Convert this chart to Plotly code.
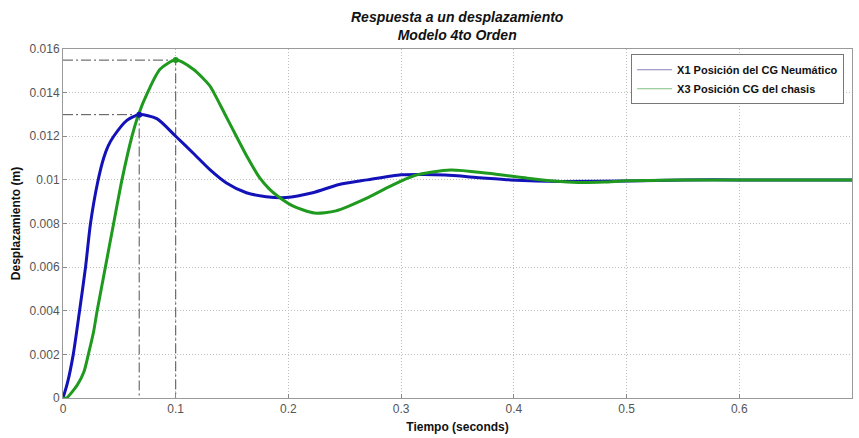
import plotly.graph_objects as go

# Data
t_x1 = [0, 0.004, 0.0091, 0.0147, 0.020, 0.0244, 0.0308, 0.0361, 0.040, 0.045,
        0.0567, 0.0676, 0.0832, 0.1, 0.1156, 0.1303, 0.145, 0.1627, 0.1803, 0.198, 0.2215,
        0.245, 0.27, 0.3, 0.32, 0.339, 0.37, 0.397, 0.42, 0.442, 0.5, 0.55, 0.6, 0.7]
y_x1 = [0, 0.0007, 0.0020, 0.0040, 0.0060, 0.0080, 0.0099, 0.0110, 0.01155, 0.0120,
        0.01273, 0.01299, 0.01281, 0.0120, 0.01122, 0.01047, 0.00986, 0.00941, 0.00923, 0.00919, 0.00941,
        0.00979, 0.0100, 0.01023, 0.01025, 0.01022, 0.0101, 0.0100, 0.00995, 0.00993, 0.00995, 0.0100,
        0.0100, 0.0100]

t_x3 = [0, 0.003, 0.0126, 0.0185, 0.0225, 0.0270, 0.0303, 0.0376, 0.0449, 0.0523,
        0.0612, 0.067, 0.075, 0.0861, 0.1, 0.1156, 0.1303, 0.1338, 0.1438, 0.1538, 0.164, 0.1744,
        0.1827, 0.1906, 0.2038, 0.223, 0.2421, 0.271, 0.29, 0.312, 0.344, 0.377, 0.412, 0.435, 0.457,
        0.48, 0.5, 0.55, 0.7]
y_x3 = [0, 0.0, 0.00059, 0.00119, 0.0020, 0.0030, 0.0040, 0.0060, 0.0080, 0.0100,
        0.0120, 0.0130, 0.0140, 0.01507, 0.01549, 0.01507, 0.01431, 0.0140, 0.0130, 0.0120, 0.0110, 0.0101,
        0.0096, 0.00925, 0.00881, 0.00848, 0.00858, 0.0092, 0.0097, 0.0102, 0.01045, 0.0103, 0.01008,
        0.00995, 0.00988, 0.0099, 0.00996, 0.0100, 0.0100]

name_x1 = "X1 Posición del CG Neumático"
name_x3 = "X3 Posición CG del chasis"

x_ticks = [0, 0.1, 0.2, 0.3, 0.4, 0.5, 0.6, 0.7]
x_ticklabels = ["0", "0.1", "0.2", "0.3", "0.4", "0.5", "0.6", "0.7"]
y_ticks = [0, 0.002, 0.004, 0.006, 0.008, 0.01, 0.012, 0.014, 0.016]
y_ticklabels = ["0", "0.002", "0.004", "0.006", "0.008", "0.01", "0.012", "0.014", "0.016"]

blue = "#1212b8"
green = "#1f9a1f"
font = "Liberation Sans, Arial, sans-serif"

fig = go.Figure()

# peak guide lines (dash-dot)
for tt, yy in ((t_x1, y_x1), (t_x3, y_x3)):
    i = yy.index(max(yy))
    tp, yp = tt[i], yy[i]
    fig.add_trace(go.Scatter(x=[0, tp, tp], y=[yp, yp, 0], mode="lines",
                             line=dict(color="#505050", width=1, dash="10px,3px,2px,3px"),
                             showlegend=False, hoverinfo="skip"))

fig.add_trace(go.Scatter(x=t_x1, y=y_x1, mode="lines",
                         line=dict(color=blue, width=3, shape="spline", smoothing=0.7),
                         showlegend=False))
fig.add_trace(go.Scatter(x=t_x3, y=y_x3, mode="lines",
                         line=dict(color=green, width=3, shape="spline", smoothing=0.7),
                         showlegend=False))

# peak markers
for tt, yy, c in ((t_x1, y_x1, blue), (t_x3, y_x3, green)):
    i = yy.index(max(yy))
    fig.add_trace(go.Scatter(x=[tt[i]], y=[yy[i]], mode="markers",
                             marker=dict(color=c, size=6), showlegend=False))

# legend entries
fig.add_trace(go.Scatter(x=[None], y=[None], mode="lines", name="<b>" + name_x1 + "</b>",
                         line=dict(color="#8a80b8", width=1)))
fig.add_trace(go.Scatter(x=[None], y=[None], mode="lines", name="<b>" + name_x3 + "</b>",
                         line=dict(color="#80c080", width=1)))

axis_common = dict(showline=True, linecolor="#9a9a9a", linewidth=1, mirror=True,
                   ticks="inside", ticklen=4, tickcolor="#888888",
                   showgrid=True, gridcolor="#bdbdbd", griddash="1px,2px", gridwidth=1,
                   zeroline=False, tickfont=dict(family=font, size=12, color="#555555"))

fig.update_layout(
    width=859, height=438,
    margin=dict(l=63, r=6, t=49, b=35),
    paper_bgcolor="white", plot_bgcolor="white",
    xaxis=dict(range=[0, 0.7], tickvals=x_ticks, ticktext=x_ticklabels,
               title=dict(text="<b>Tiempo (seconds)</b>", font=dict(family=font, size=12, color="#111111"),
                          standoff=7),
               **axis_common),
    yaxis=dict(range=[0, 0.016], tickvals=y_ticks, ticktext=y_ticklabels,
               title=dict(text="<b>Desplazamiento (m)</b>", font=dict(family=font, size=12, color="#111111"),
                          standoff=6),
               **axis_common),
    legend=dict(x=0.99, xanchor="right", y=0.985, yanchor="top",
                bgcolor="white", bordercolor="#777777", borderwidth=1,
                font=dict(family=font, size=11, color="#111111"),
                tracegroupgap=0, itemwidth=35),
    annotations=[dict(text="<b><i>Respuesta a un desplazamiento<br>Modelo 4to Orden</i></b>",
                      xref="paper", yref="paper", x=0.5, y=1.065,
                      xanchor="center", yanchor="middle", showarrow=False,
                      font=dict(family=font, size=14, color="#111111"))],
)

fig.write_html("out.html", config={"displayModeBar": False},
               post_script="document.body.style.margin='0';document.body.style.overflow='hidden';")
